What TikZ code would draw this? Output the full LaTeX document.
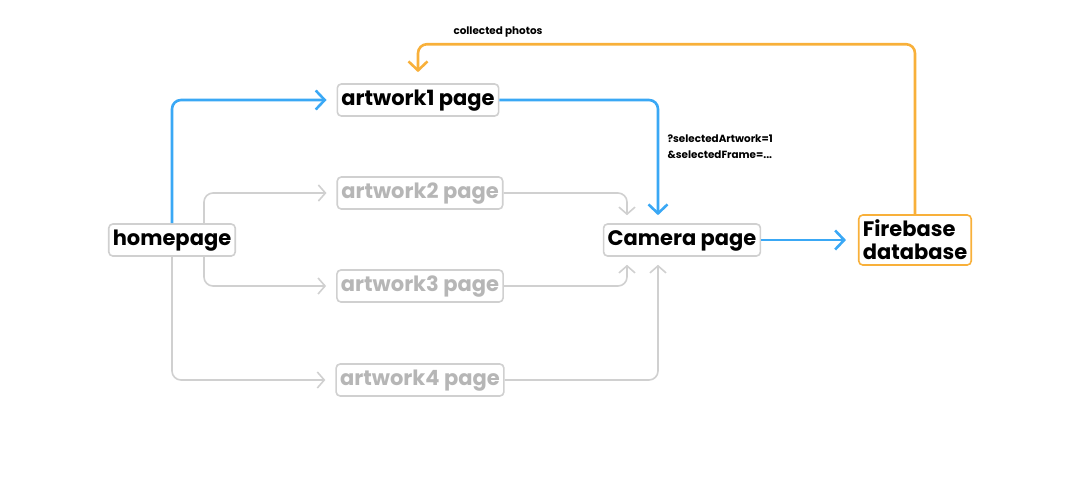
\documentclass[tikz,border=0pt]{standalone}
\usepackage{fontspec}
\setmainfont{Poppins}
\usetikzlibrary{arrows.meta,positioning,calc}

\definecolor{flowblue}{RGB}{58,168,245}
\definecolor{floworange}{RGB}{248,176,58}
\definecolor{flowgray}{RGB}{208,208,208}
\definecolor{textgray}{RGB}{182,182,182}

\begin{document}
\begin{tikzpicture}[x=1pt,y=-1pt,
    box/.style={draw=flowgray,line width=1.6pt,rounded corners=4pt,fill=white,
        inner xsep=4pt,font=\fontsize{21}{23}\selectfont\bfseries},
    page/.style={box,inner ysep=6pt,text height=15pt,text depth=5pt},
    idlepage/.style={page,text=textgray},
    active/.style={flowblue,line width=2.6pt,rounded corners=9pt,
        -{Straight Barb[length=9pt,width=19pt]}},
    idle/.style={flowgray,line width=1.6pt,rounded corners=9pt,
        -{Straight Barb[length=7pt,width=16pt]}},
    upload/.style={floworange,line width=2.6pt,rounded corners=9pt,
        -{Straight Barb[length=9pt,width=19pt]}},
    note/.style={font=\fontsize{10.4}{16}\selectfont\bfseries,align=left}]
    \useasboundingbox (0,0) rectangle (1080,480);

    % Pages
    \node[page] (home) at (172,240) {homepage};
    \node[page] (art1) at (418,100) {artwork1 page};
    \node[idlepage] (art2) at (420,193) {artwork2 page};
    \node[idlepage] (art3) at (420,286) {artwork3 page};
    \node[idlepage] (art4) at (420,380) {artwork4 page};
    \node[page] (camera) at (682,240) {Camera page};

    % Database
    \node[box,draw=floworange,align=left,inner ysep=5pt] (fire) at (915,240) {Firebase\\database};

    % Turning points
    \coordinate (photoTurn) at ($(fire.north)+(0,-170)$);
    \coordinate (homeSplit) at ($(home.north)+(32,0)$);
    \coordinate (homeSplitLow) at ($(home.south)+(32,0)$);

    % Arcs from the homepage
    \draw[active,shorten >=10pt] (home.north) |- (art1.west);
    \draw[idle,shorten >=10pt] (homeSplit) |- (art2.west);
    \draw[idle,shorten >=10pt] (homeSplitLow) |- (art3.west);
    \draw[idle,shorten >=10pt] (home.south) |- (art4.west);

    % Arcs into the camera page
    \draw[active,shorten >=8pt] (art1.east) -| ($(camera.north)+(-24,0)$);
    \draw[idle,shorten >=8pt] (art2.east) -| ($(camera.north)+(-55,0)$);
    \draw[idle,shorten >=8pt] (art3.east) -| ($(camera.south)+(-55,0)$);
    \draw[idle,shorten >=8pt] (art4.east) -| ($(camera.south)+(-24,0)$);

    % Arcs to and from the database
    \draw[active,shorten >=12pt] (camera.east) -- (fire.west);
    \draw[upload,shorten >=11pt] (fire.north) -- (photoTurn) -| (art1.north);

    % Labels
    \node[note] (photoLabel) at (498,32) {collected photos};
    \node[note,anchor=north west] (queryLabel) at (664,131) {?selectedArtwork=1\\\&selectedFrame=...};
\end{tikzpicture}
\end{document}
